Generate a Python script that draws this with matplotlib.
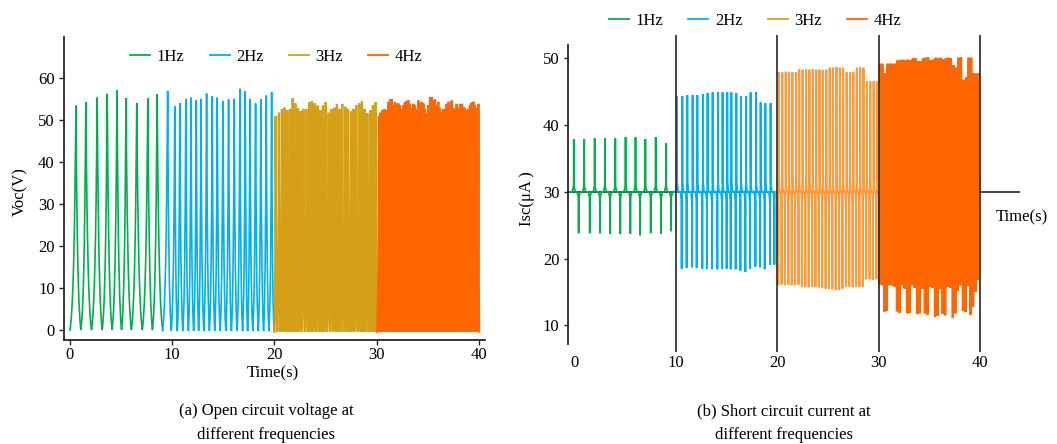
import matplotlib
matplotlib.use("Agg")
import matplotlib.pyplot as plt
from matplotlib.lines import Line2D

plt.rcParams['font.family'] = ['Liberation Serif', 'DejaVu Serif']
plt.rcParams['font.size'] = 12

# ---------------- data ----------------
freq_labels = ['1Hz', '2Hz', '3Hz', '4Hz']
time_ticks = [0, 10, 20, 30, 40]
voc_ticks = [0, 10, 20, 30, 40, 50, 60]
isc_ticks = [10, 20, 30, 40, 50]

# (a) open circuit voltage: peak times (s) and peak values (V)
voc_1hz_t = [0.58, 1.55, 2.66, 3.64, 4.60, 5.48, 6.53, 7.61, 8.52]
voc_1hz_v = [53.5, 54.3, 55.4, 56.3, 57.1, 55.3, 54.1, 55.2, 56.2]

voc_2hz_t = [9.55, 10.25, 10.74, 11.33, 11.83, 12.35, 12.81, 13.36, 13.91, 14.40,
             14.96, 15.51, 16.06, 16.62, 17.14, 17.60, 18.15, 18.67, 19.19, 19.72]
voc_2hz_v = [57.0, 53.3, 54.1, 55.1, 55.4, 54.8, 55.1, 56.4, 55.7, 55.4,
             54.6, 55.0, 55.1, 57.5, 56.9, 55.1, 54.0, 55.0, 55.9, 56.7]

voc_3hz_t = [20.11, 20.44, 20.73, 20.99, 21.25, 21.52, 21.78, 22.04, 22.30, 22.56,
             22.85, 23.15, 23.41, 23.67, 23.93, 24.22, 24.48, 24.74, 25.01, 25.30,
             25.59, 25.85, 26.11, 26.37, 26.63, 26.93, 27.19, 27.48, 27.74, 28.00,
             28.30, 28.56, 28.82, 29.08, 29.37, 29.63, 29.89]
voc_3hz_v = [51.0, 51.8, 52.7, 53.0, 52.4, 52.7, 55.3, 54.0, 52.8, 52.2,
             52.7, 52.7, 54.3, 54.5, 54.0, 53.5, 52.4, 53.5, 54.3, 51.8,
             52.7, 53.0, 53.9, 52.7, 53.9, 53.2, 52.7, 52.2, 52.7, 53.6,
             54.0, 54.5, 52.7, 51.7, 52.4, 53.6, 54.3]

voc_4hz_t = [30.22, 30.38, 30.55, 30.74, 30.97, 31.13, 31.30, 31.46, 31.62, 31.79,
             31.95, 32.11, 32.27, 32.44, 32.60, 32.76, 32.93, 33.09, 33.25, 33.42,
             33.58, 33.74, 33.90, 34.07, 34.23, 34.39, 34.56, 34.72, 34.88, 35.05,
             35.21, 35.37, 35.53, 35.70, 35.86, 36.02, 36.19, 36.35, 36.51, 36.68,
             36.84, 37.00, 37.16, 37.33, 37.49, 37.65, 37.82, 37.98, 38.14, 38.31,
             38.47, 38.63, 38.79, 38.96, 39.12, 39.28, 39.45, 39.61, 39.77, 39.94]
voc_4hz_v = [51.0, 51.8, 52.4, 52.7, 52.4, 54.3, 55.0, 55.0, 53.6, 54.3,
             53.9, 54.0, 53.6, 52.7, 53.6, 54.3, 54.6, 54.8, 53.9, 52.8,
             53.9, 53.5, 52.7, 54.7, 53.9, 54.3, 54.0, 52.7, 51.7, 53.6,
             55.5, 55.5, 54.8, 55.0, 53.6, 54.4, 52.8, 52.0, 52.7, 52.7,
             53.9, 54.4, 53.6, 54.7, 52.8, 52.7, 53.9, 52.8, 53.9, 53.9,
             53.2, 52.8, 52.4, 52.7, 53.6, 54.2, 54.4, 53.6, 52.8, 53.9]

voc_segments = [(0.0, 9.06), (9.06, 19.95), (20.0, 30.0), (30.05, 40.02)]
voc_troughs = [0.0, -0.2, -0.4, -0.4]

# (b) short circuit current: positive / negative spike times (s) and values (uA)
isc_baseline = 30.0
isc_1hz_pos_t = [-0.04, 0.98, 2.02, 3.03, 4.05, 5.06, 6.04, 7.01, 8.03, 9.04]
isc_1hz_pos_v = [37.9, 37.9, 38.0, 38.0, 38.0, 38.2, 38.2, 37.9, 38.2, 37.3]
isc_1hz_neg_t = [0.44, 1.53, 2.54, 3.53, 4.54, 5.53, 6.48, 7.54, 8.55, 9.54]
isc_1hz_neg_v = [23.8, 23.8, 23.8, 23.7, 23.7, 23.7, 23.5, 23.8, 23.7, 24.1]

isc_2hz_pos_t = [10.13, 10.65, 11.14, 11.67, 12.13, 12.68, 13.14, 13.64, 14.16, 14.62,
                 15.08, 15.48, 15.97, 16.43, 16.92, 17.38, 17.91, 18.37, 18.83, 19.35]
isc_2hz_pos_v = [44.3, 44.3, 44.5, 44.5, 44.5, 44.6, 44.8, 44.9, 44.9, 44.9,
                 44.9, 44.9, 44.8, 44.3, 44.3, 44.9, 44.9, 43.4, 43.3, 43.3]
isc_2hz_neg_t = [10.59, 11.08, 11.61, 12.07, 12.62, 13.08, 13.58, 14.10, 14.56, 15.02,
                 15.42, 15.91, 16.37, 16.86, 17.32, 17.85, 18.31, 18.77, 19.29, 19.72]
isc_2hz_neg_v = [18.5, 18.6, 18.7, 18.6, 18.5, 18.5, 18.4, 18.4, 18.5, 18.5,
                 18.4, 18.4, 18.2, 18.0, 18.5, 18.8, 18.7, 18.4, 19.1, 19.1]

isc_3hz_neg_t = [20.10, 20.43, 20.77, 21.10, 21.43, 21.77, 22.10, 22.43, 22.77, 23.10,
                 23.43, 23.77, 24.10, 24.43, 24.77, 25.10, 25.43, 25.77, 26.10, 26.43,
                 26.77, 27.10, 27.43, 27.77, 28.10, 28.43, 28.77, 29.10, 29.43, 29.77]
isc_3hz_neg_v = [16.0, 16.1, 16.0, 16.1, 16.0, 16.0, 16.1, 15.8, 15.8, 15.7,
                 15.8, 15.8, 15.7, 15.6, 15.5, 15.5, 15.4, 15.3, 15.3, 15.5,
                 15.8, 15.8, 15.7, 15.8, 15.8, 15.8, 16.9, 16.9, 16.8, 16.9]
isc_3hz_pos_t = [20.17, 20.50, 20.84, 21.17, 21.50, 21.84, 22.17, 22.50, 22.84, 23.17,
                 23.50, 23.84, 24.17, 24.50, 24.84, 25.17, 25.50, 25.84, 26.17, 26.50,
                 26.84, 27.17, 27.50, 27.84, 28.17, 28.50, 28.84, 29.17, 29.50, 29.84]
isc_3hz_pos_v = [47.9, 47.9, 48.0, 47.9, 47.9, 47.9, 48.4, 48.3, 48.4, 48.3,
                 48.4, 48.3, 48.3, 48.2, 48.3, 48.6, 48.6, 48.7, 48.6, 48.6,
                 47.9, 47.9, 48.0, 48.6, 48.7, 48.6, 46.6, 46.6, 46.6, 46.6]

isc_4hz_neg_t = [30.05, 30.30, 30.55, 30.80, 31.05, 31.30, 31.55, 31.80, 32.05, 32.30,
                 32.55, 32.80, 33.05, 33.30, 33.55, 33.80, 34.05, 34.30, 34.55, 34.80,
                 35.05, 35.30, 35.55, 35.80, 36.05, 36.30, 36.55, 36.80, 37.05, 37.30,
                 37.55, 37.80, 38.05, 38.30, 38.55, 38.80, 39.05, 39.30, 39.55, 39.80]
isc_4hz_neg_v = [16.2, 16.0, 12.0, 12.2, 16.0, 16.0, 15.8, 12.1, 11.9, 16.0,
                 15.5, 11.8, 11.9, 16.0, 15.6, 11.7, 11.8, 15.5, 11.8, 11.6,
                 15.8, 15.6, 11.3, 11.4, 15.4, 11.7, 11.5, 15.8, 15.6, 11.1,
                 11.8, 15.2, 16.0, 12.2, 12.0, 15.9, 11.6, 12.8, 15.0, 16.8]
isc_4hz_pos_t = [30.11, 30.36, 30.61, 30.86, 31.11, 31.36, 31.61, 31.86, 32.11, 32.36,
                 32.61, 32.86, 33.11, 33.36, 33.61, 33.86, 34.11, 34.36, 34.61, 34.86,
                 35.11, 35.36, 35.61, 35.86, 36.11, 36.36, 36.61, 36.86, 37.11, 37.36,
                 37.61, 37.86, 38.11, 38.36, 38.61, 38.86, 39.11, 39.36, 39.61, 39.86]
isc_4hz_pos_v = [49.2, 49.2, 47.8, 49.2, 49.2, 49.2, 49.2, 49.7, 49.7, 49.8,
                 49.7, 49.8, 49.7, 50.0, 50.0, 49.6, 49.6, 50.0, 50.1, 50.2,
                 49.7, 49.8, 50.1, 50.0, 50.1, 49.9, 50.0, 50.1, 50.0, 49.0,
                 48.6, 50.1, 50.2, 46.8, 47.2, 50.1, 50.1, 47.8, 47.7, 47.8]

isc_segments = [(-0.4, 9.9), (9.9, 19.85), (19.85, 29.95), (29.95, 39.95)]

# ---------------- styles ----------------
c_green, c_blue, c_gold, c_orange, c_lorange = '#00B050', '#00B0F0', '#D4A017', '#FF6600', '#FF9A3C'
voc_colors = [c_green, c_blue, c_gold, c_orange]
voc_lw = [1.2, 1.2, 1.6, 1.6]
isc_colors = [c_green, c_blue, c_lorange, c_orange]
isc_lw = [1.3, 1.4, 1.4, 1.6]
legend_colors = [c_green, c_blue, c_gold, c_orange]
ink = '#262626'

# pulse shape (fraction of half gap -> fraction of height)
SHAPE_OFFS = [0.0, 0.04, 0.1, 0.2, 0.3, 0.4, 0.5, 0.6, 0.7, 0.8, 0.9, 1.0]
SHAPE_FRAC = [1.0, 0.888, 0.741, 0.546, 0.398, 0.285, 0.200, 0.135, 0.086, 0.049, 0.021, 0.0]
HUMP_OFFS = [1.0, 0.6, 0.3, 0.1]
HUMP_FRAC = [0.0, 0.5, 0.85, 1.0]
isc_hump = [0.8, 1.4, 1.8, 2.2]
isc_width = [0.15, 0.10, 0.07, 0.06]


def voc_path(pt, pv, t0, t1, trough):
    xs, ys = [], []
    n = len(pt)
    for i in range(n):
        t, v = pt[i], pv[i]
        hl = (t - t0) if i == 0 else (t - pt[i - 1]) / 2
        hr = (t1 - t) if i == n - 1 else (pt[i + 1] - t) / 2
        for d, f in zip(SHAPE_OFFS[::-1], SHAPE_FRAC[::-1]):
            xs.append(t - d * hl); ys.append(trough + f * (v - trough))
        for d, f in zip(SHAPE_OFFS[1:], SHAPE_FRAC[1:]):
            xs.append(t + d * hr); ys.append(trough + f * (v - trough))
    return xs, ys


def isc_path(pos_t, pos_v, neg_t, neg_v, t0, t1, hump, width, base):
    ev = sorted([(t, v, 1) for t, v in zip(pos_t, pos_v)] +
                [(t, v, -1) for t, v in zip(neg_t, neg_v)])
    xs, ys = [t0], [base]
    for i, (t, v, s) in enumerate(ev):
        tp = ev[i - 1][0] if i > 0 else t0
        tn = ev[i + 1][0] if i < len(ev) - 1 else t1
        wl = min(width, (t - tp) / 2)
        wr = min(width, (tn - t) / 2)
        for d, f in zip(HUMP_OFFS, HUMP_FRAC):
            xs.append(t - d * wl); ys.append(base + s * hump * f)
        xs.append(t); ys.append(v)
        for d, f in zip(HUMP_OFFS[::-1], HUMP_FRAC[::-1]):
            xs.append(t + d * wr); ys.append(base + s * hump * f)
    xs.append(t1); ys.append(base)
    return xs, ys


W, H = 1057, 444
fig = plt.figure(figsize=(W / 100, H / 100), dpi=100)

# ---------------- (a) ----------------
ax1 = fig.add_axes([63.7 / W, 1 - 340 / H, (485 - 63.7) / W, (340 - 37.3) / H])
voc_data = [(voc_1hz_t, voc_1hz_v), (voc_2hz_t, voc_2hz_v), (voc_3hz_t, voc_3hz_v), (voc_4hz_t, voc_4hz_v)]
for (pt, pv), (t0, t1), tr, col, lw in zip(voc_data, voc_segments, voc_troughs, voc_colors, voc_lw):
    xs, ys = voc_path(pt, pv, t0, t1, tr)
    ax1.plot(xs, ys, color=col, lw=lw, solid_joinstyle='miter')
ax1.set_xlim(-0.616, 40.59)
ax1.set_ylim(-2.38, 69.77)
ax1.set_xticks(time_ticks)
ax1.set_yticks(voc_ticks)
for s in ['top', 'right']:
    ax1.spines[s].set_visible(False)
for s in ['left', 'bottom']:
    ax1.spines[s].set_color(ink)
    ax1.spines[s].set_linewidth(1.3)
ax1.tick_params(axis='both', direction='out', length=3.5, width=1.0, color=ink, labelsize=12)
ax1.tick_params(axis='y', pad=3)
ax1.tick_params(axis='x', pad=1.5)

handles = [Line2D([], [], color=c, lw=1.3) for c in legend_colors]
fig.legend(handles, freq_labels, loc='center', bbox_to_anchor=(276.5 / W, 1 - 57 / H), ncol=4,
           frameon=False, handlelength=1.2, handletextpad=0.4, columnspacing=1.5,
           borderpad=0, borderaxespad=0, fontsize=12)

fig.text(20 / W, 1 - 192 / H, 'Voc(V)', rotation=90, ha='center', va='center', fontsize=12)
fig.text(273 / W, 1 - 373 / H, 'Time(s)', ha='center', va='center', fontsize=12)
fig.text(266 / W, 1 - 411 / H, '(a) Open circuit voltage at', ha='center', va='center', fontsize=12)
fig.text(266 / W, 1 - 435 / H, 'different frequencies', ha='center', va='center', fontsize=12)

# ---------------- (b) ----------------
ax2 = fig.add_axes([567.7 / W, 1 - 352 / H, (1020 - 567.7) / W, (352 - 35) / H])
isc_data = [(isc_1hz_pos_t, isc_1hz_pos_v, isc_1hz_neg_t, isc_1hz_neg_v),
            (isc_2hz_pos_t, isc_2hz_pos_v, isc_2hz_neg_t, isc_2hz_neg_v),
            (isc_3hz_pos_t, isc_3hz_pos_v, isc_3hz_neg_t, isc_3hz_neg_v),
            (isc_4hz_pos_t, isc_4hz_pos_v, isc_4hz_neg_t, isc_4hz_neg_v)]
for (a, b, c, d), (t0, t1), hp, wd, col, lw in zip(isc_data, isc_segments, isc_hump, isc_width,
                                                  isc_colors, isc_lw):
    xs, ys = isc_path(a, b, c, d, t0, t1, hp, wd, isc_baseline)
    ax2.plot(xs, ys, color=col, lw=lw, solid_joinstyle='miter', zorder=2)
ax2.set_xlim(-0.64, 43.92)
ax2.set_ylim(6.0, 53.5)
for t in time_ticks[1:]:
    ax2.axvline(t, color=ink, lw=1.2, zorder=3)
ax2.axhline(isc_baseline, color=ink, lw=1.2, zorder=1.5)
for s in ['top', 'right', 'bottom']:
    ax2.spines[s].set_visible(False)
ax2.spines['left'].set_bounds(7.17, 52.0)
ax2.spines['left'].set_color(ink)
ax2.spines['left'].set_linewidth(1.3)
ax2.set_xticks(time_ticks)
ax2.set_yticks(isc_ticks)
ax2.tick_params(axis='x', length=0, pad=2.5, labelsize=12)
ax2.tick_params(axis='y', direction='out', length=3, width=1.0, color=ink, pad=3, labelsize=12)

fig.legend(handles, freq_labels, loc='center', bbox_to_anchor=(755 / W, 1 - 21 / H), ncol=4,
           frameon=False, handlelength=1.2, handletextpad=0.4, columnspacing=1.5,
           borderpad=0, borderaxespad=0, fontsize=12)

fig.text(527 / W, 1 - 199 / H, 'Isc(μA )', rotation=90, ha='center', va='center', fontsize=12)
fig.text(996 / W, 1 - 217 / H, 'Time(s)', ha='left', va='center', fontsize=12)
fig.text(784 / W, 1 - 411 / H, '(b) Short circuit current at', ha='center', va='center', fontsize=12)
fig.text(784 / W, 1 - 435 / H, 'different frequencies', ha='center', va='center', fontsize=12)

fig.savefig('out.png', dpi=100)
